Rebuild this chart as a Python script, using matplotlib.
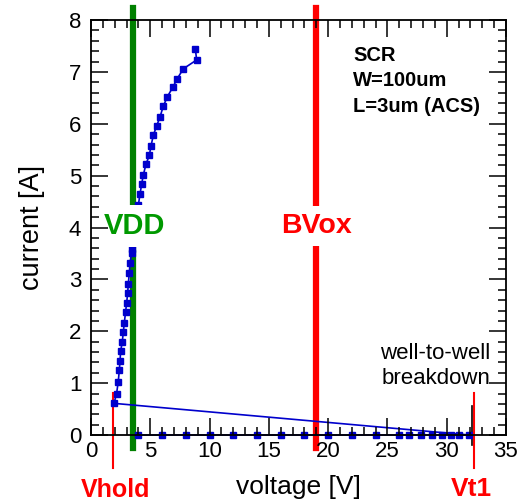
import matplotlib
matplotlib.use('Agg')
import matplotlib.pyplot as plt
from matplotlib.ticker import MultipleLocator

plt.rcParams['font.family'] = ['Liberation Sans', 'DejaVu Sans']

# off-state points (current ~0) up to trigger
off_v = [4, 6, 8, 10, 12, 14, 16, 18, 20, 22, 24, 26, 26.8, 27.8, 28.8, 29.6, 30.4, 31.0, 31.9]
off_i = [0.0] * len(off_v)

# on-state after snapback
on_v = [1.94, 2.16, 2.30, 2.39, 2.45, 2.50, 2.64, 2.73, 2.81, 2.92, 3.01, 3.09, 3.15, 3.23, 3.29,
        3.43, 3.50, 3.62, 3.75, 3.88, 4.0, 4.13, 4.27, 4.41, 4.64, 4.92, 5.06, 5.26, 5.54, 5.82,
        6.10, 6.44, 6.89, 7.28, 7.79, 8.91, 8.80]
on_i = [0.61, 0.80, 1.03, 1.25, 1.43, 1.61, 1.80, 1.99, 2.16, 2.38, 2.55, 2.73, 2.92, 3.12, 3.31,
        3.50, 3.58, 3.80, 4.02, 4.24, 4.44, 4.64, 4.83, 5.01, 5.22, 5.39, 5.57, 5.78, 5.96, 6.13,
        6.34, 6.52, 6.70, 6.87, 7.06, 7.23, 7.45]

v_all = off_v + on_v
i_all = off_i + on_i

vdd = 3.54
bvox = 18.98
vhold = 1.86
vt1 = 32.3
vt1_mark = 32.13

fig = plt.figure(figsize=(5.22, 5.04), dpi=100)
ax = fig.add_axes([0.1743, 0.1369, 0.795, 0.8234])

ax.plot(v_all, i_all, '-', color='#0000CC', lw=1.2, marker='s', ms=5, zorder=3, clip_on=False)

# reference lines
ax.plot([vdd, vdd], [-0.25, 8.23], color='#008000', lw=4.5, clip_on=False, zorder=2)
ax.plot([bvox, bvox], [-0.25, 8.23], color='#FF0000', lw=4.5, clip_on=False, zorder=2)
ax.plot([vhold, vhold], [-0.64, 0.81], color='#FF0000', lw=1.5, clip_on=False, zorder=2)
ax.plot([vt1, vt1], [-0.64, 0.81], color='#FF0000', lw=1.5, clip_on=False, zorder=3.1)
ax.plot([vt1_mark, vt1_mark], [-0.19, 0.56], color='black', lw=1.2, clip_on=False, zorder=2)

box = dict(boxstyle='square,pad=0.24', fc='white', ec='none')
ax.text(3.71, 4.03, 'VDD', color='#009900', fontsize=21, fontweight='bold',
        ha='center', va='center', bbox=box, zorder=4)
ax.text(19.06, 4.03, 'BVox', color='#FF0000', fontsize=20.5, fontweight='bold',
        ha='center', va='center', bbox=box, zorder=4)

fig.text(353 / 522, 1 - 46 / 504, 'SCR\nW=100um\nL=3um (ACS)', fontsize=14.5, fontweight='bold',
         ha='left', va='top', linespacing=1.42)
fig.text(490 / 522, 1 - 366 / 504, 'well-to-well\nbreakdown', fontsize=16, ha='right', va='center',
         linespacing=1.2)

fig.text(116 / 522, 1 - 490 / 504, 'Vhold', color='#FF0000', fontsize=18, fontweight='bold',
         ha='center', va='center')
fig.text(471 / 522, 1 - 489 / 504, 'Vt1', color='#FF0000', fontsize=19, fontweight='bold',
         ha='center', va='center')

ax.set_xlim(0, 35)
ax.set_ylim(0, 8)
ax.xaxis.set_major_locator(MultipleLocator(5))
ax.xaxis.set_minor_locator(MultipleLocator(1))
ax.yaxis.set_major_locator(MultipleLocator(1))
ax.yaxis.set_minor_locator(MultipleLocator(0.2))
ax.tick_params(which='both', direction='in', top=True, right=True, width=1.1, labelsize=16)
ax.tick_params(which='major', length=12)
ax.tick_params(which='minor', length=6)
ax.tick_params(axis='x', pad=4)
ax.tick_params(axis='y', pad=7)
ax.xaxis.set_zorder(5)
ax.yaxis.set_zorder(5)
for s in ax.spines.values():
    s.set_linewidth(1.3)
    s.set_zorder(5)

ax.set_xlabel('voltage [V]', fontsize=19, labelpad=10)
ax.set_ylabel('current [A]', fontsize=19.5, labelpad=17)

fig.savefig('out.png', dpi=100)
